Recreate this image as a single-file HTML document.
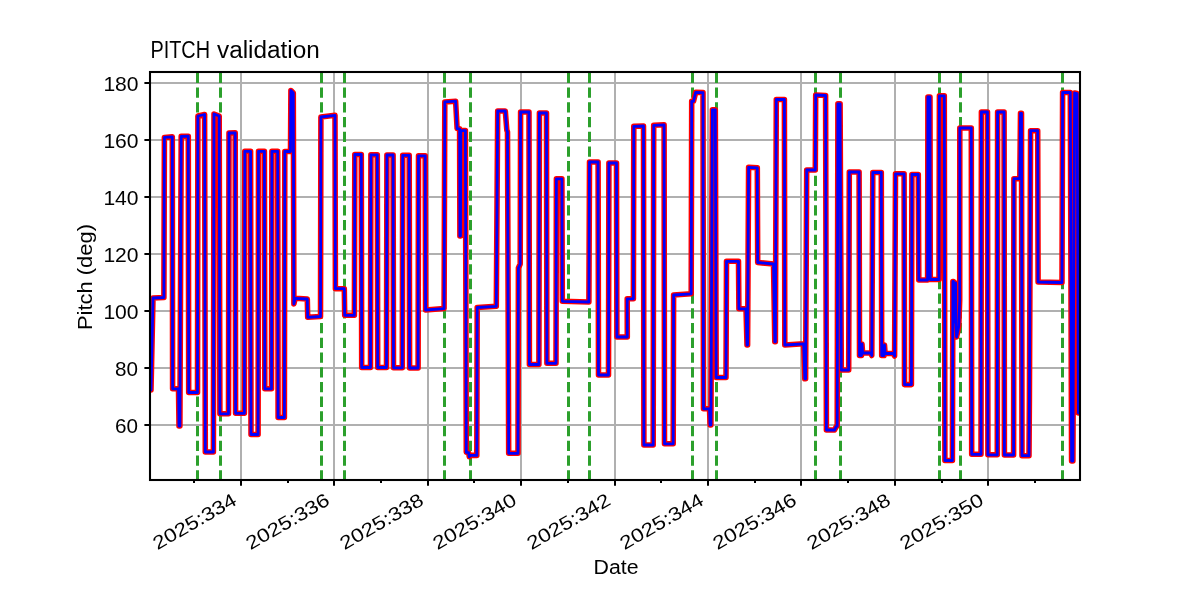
<!DOCTYPE html>
<html><head><meta charset="utf-8"><title>PITCH validation</title>
<style>html,body{margin:0;padding:0;background:#fff;overflow:hidden}body{width:1200px;height:600px;font-family:"Liberation Sans",sans-serif}svg{display:block}</style></head>
<body>
<svg width="1200" height="600" viewBox="0 0 1200 600">
<rect width="1200" height="600" fill="#fff"/>
<defs><clipPath id="ax"><rect x="150" y="72" width="930" height="408"/></clipPath></defs>
<g stroke="#b0b0b0" stroke-width="2" fill="none">
<line x1="241.00" y1="72" x2="241.00" y2="480"/>
<line x1="334.00" y1="72" x2="334.00" y2="480"/>
<line x1="428.00" y1="72" x2="428.00" y2="480"/>
<line x1="521.00" y1="72" x2="521.00" y2="480"/>
<line x1="615.00" y1="72" x2="615.00" y2="480"/>
<line x1="708.00" y1="72" x2="708.00" y2="480"/>
<line x1="801.00" y1="72" x2="801.00" y2="480"/>
<line x1="895.00" y1="72" x2="895.00" y2="480"/>
<line x1="988.00" y1="72" x2="988.00" y2="480"/>
<line x1="150" y1="425.00" x2="1080" y2="425.00"/>
<line x1="150" y1="368.00" x2="1080" y2="368.00"/>
<line x1="150" y1="311.00" x2="1080" y2="311.00"/>
<line x1="150" y1="254.00" x2="1080" y2="254.00"/>
<line x1="150" y1="197.00" x2="1080" y2="197.00"/>
<line x1="150" y1="140.00" x2="1080" y2="140.00"/>
<line x1="150" y1="83.00" x2="1080" y2="83.00"/>
</g>
<g stroke="#2ca02c" stroke-width="3" stroke-dasharray="10.28 4.44" fill="none" clip-path="url(#ax)">
<line x1="197.5" y1="480.5" x2="197.5" y2="72"/>
<line x1="220.5" y1="480.5" x2="220.5" y2="72"/>
<line x1="321.5" y1="480.5" x2="321.5" y2="72"/>
<line x1="344.5" y1="480.5" x2="344.5" y2="72"/>
<line x1="444.5" y1="480.5" x2="444.5" y2="72"/>
<line x1="470.5" y1="480.5" x2="470.5" y2="72"/>
<line x1="568.5" y1="480.5" x2="568.5" y2="72"/>
<line x1="589.5" y1="480.5" x2="589.5" y2="72"/>
<line x1="692.5" y1="480.5" x2="692.5" y2="72"/>
<line x1="716.5" y1="480.5" x2="716.5" y2="72"/>
<line x1="815.5" y1="480.5" x2="815.5" y2="72"/>
<line x1="840.5" y1="480.5" x2="840.5" y2="72"/>
<line x1="939.5" y1="480.5" x2="939.5" y2="72"/>
<line x1="960.5" y1="480.5" x2="960.5" y2="72"/>
<line x1="1062.5" y1="480.5" x2="1062.5" y2="72"/>
</g>
<g clip-path="url(#ax)" fill="none" stroke-linejoin="round" stroke-linecap="butt">
<polyline points="149.0,390.0 151.0,390.0 153.0,298.0 163.9,297.5 164.4,137.4 172.3,136.8 172.6,388.8 178.5,388.8 179.0,426.0 179.9,426.0 181.2,136.4 188.3,136.2 188.7,392.5 197.5,392.5 197.9,116.0 204.6,114.5 205.3,452.0 213.4,452.0 214.0,114.0 219.2,116.0 219.9,413.8 228.5,413.8 229.0,133.0 235.2,132.8 235.6,413.3 244.4,413.3 244.8,151.3 250.6,151.3 251.0,434.5 258.1,434.5 258.5,151.3 264.4,151.3 264.8,388.8 271.5,388.8 271.9,151.3 277.7,151.3 278.1,417.5 284.4,417.5 284.8,151.5 290.5,151.5 290.9,90.5 293.3,93.0 293.9,304.0 295.2,298.3 307.3,299.0 307.7,317.3 320.5,316.5 320.9,117.0 335.0,115.3 335.4,288.7 344.3,288.7 344.7,315.3 354.4,315.3 354.8,154.5 361.3,154.5 361.7,367.5 370.5,367.5 370.9,154.8 377.3,154.8 377.7,367.5 386.5,367.5 386.9,155.0 393.1,155.0 393.5,367.8 402.3,367.8 402.7,155.3 409.2,155.3 409.6,368.0 418.1,368.0 418.5,155.8 425.2,155.8 425.6,310.0 444.1,308.6 444.8,101.9 455.6,101.2 457.1,128.6 459.6,128.8 459.9,236.0 460.5,236.0 460.8,130.6 465.4,130.6 466.3,452.3 468.6,452.7 469.3,456.8 470.3,455.4 476.8,455.4 477.2,307.5 496.3,306.3 497.7,111.0 505.3,111.0 506.8,130.0 507.5,132.0 508.7,453.3 518.0,453.3 518.4,268.0 520.2,264.0 520.6,112.0 529.0,112.0 529.4,364.5 538.9,364.5 539.4,113.0 546.5,113.0 546.9,363.3 556.0,363.3 556.4,178.8 561.9,178.8 562.3,301.3 588.9,302.0 589.5,162.0 598.1,162.0 598.5,375.0 608.5,375.0 608.9,163.0 616.5,163.0 616.9,337.0 627.3,337.0 627.2,298.8 633.4,298.8 633.8,126.3 643.5,126.0 643.9,445.0 653.2,445.0 653.7,125.3 664.1,124.8 664.5,443.8 673.2,443.8 673.6,295.0 691.2,293.8 691.7,101.3 693.5,101.3 695.7,92.3 703.0,92.6 703.5,408.8 709.5,408.8 710.1,425.0 710.9,425.0 712.4,109.8 715.3,109.8 716.2,377.5 726.0,377.5 726.5,261.3 738.5,261.3 738.9,308.8 746.0,308.8 747.0,345.0 747.6,345.0 748.6,167.3 757.3,167.8 757.7,262.5 773.5,264.0 774.8,341.8 775.4,341.8 776.3,99.5 784.4,99.5 784.8,345.0 803.7,343.8 804.8,378.8 805.6,378.8 806.7,170.0 815.3,170.0 815.7,95.0 825.6,95.5 826.4,430.0 834.5,430.0 836.3,426.5 837.2,426.0 837.9,103.8 840.1,103.8 841.3,370.0 848.7,370.0 849.3,172.0 859.1,172.0 859.5,355.5 861.5,355.5 862.0,344.0 862.6,353.0 870.8,353.0 871.8,355.5 872.8,172.5 881.3,172.5 881.7,355.5 884.0,355.5 884.5,345.0 885.1,353.5 893.4,353.5 894.6,356.0 895.5,173.8 904.1,173.8 904.5,384.6 911.4,384.6 911.9,174.5 918.3,174.5 918.8,280.0 927.6,280.0 927.9,97.0 930.0,97.0 930.3,279.5 939.0,279.5 939.4,95.8 944.3,95.8 944.9,460.5 952.4,460.5 952.9,281.5 953.4,281.5 953.7,322.0 954.3,283.0 954.7,283.0 955.0,322.0 955.4,283.0 955.6,283.0 955.9,326.0 956.6,337.0 958.8,326.0 959.7,300.0 959.8,128.0 971.3,128.0 971.7,454.3 981.0,454.3 981.4,112.0 987.5,112.0 987.9,454.8 997.3,454.8 997.6,112.0 1004.1,112.0 1004.4,455.0 1013.6,455.0 1013.9,178.7 1019.8,178.7 1020.5,113.3 1021.5,113.3 1022.0,455.7 1029.0,455.7 1029.4,400.0 1030.6,130.7 1037.7,130.7 1038.1,282.0 1062.0,282.5 1062.6,92.5 1070.3,92.5 1071.6,461.0 1072.9,461.0 1074.6,93.0 1077.1,93.5 1078.4,413.0 1082.0,413.0" stroke="#ff0000" stroke-width="5.56"/>
<polyline points="149.0,390.0 151.0,390.0 153.0,298.0 163.9,297.5 164.4,137.4 172.3,136.8 172.6,388.8 178.5,388.8 179.0,426.0 179.9,426.0 181.2,136.4 188.3,136.2 188.7,392.5 197.5,392.5 197.9,116.0 204.6,114.5 205.3,452.0 213.4,452.0 214.0,114.0 219.2,116.0 219.9,413.8 228.5,413.8 229.0,133.0 235.2,132.8 235.6,413.3 244.4,413.3 244.8,151.3 250.6,151.3 251.0,434.5 258.1,434.5 258.5,151.3 264.4,151.3 264.8,388.8 271.5,388.8 271.9,151.3 277.7,151.3 278.1,417.5 284.4,417.5 284.8,151.5 290.5,151.5 290.9,90.5 293.3,93.0 293.9,304.0 295.2,298.3 307.3,299.0 307.7,317.3 320.5,316.5 320.9,117.0 335.0,115.3 335.4,288.7 344.3,288.7 344.7,315.3 354.4,315.3 354.8,154.5 361.3,154.5 361.7,367.5 370.5,367.5 370.9,154.8 377.3,154.8 377.7,367.5 386.5,367.5 386.9,155.0 393.1,155.0 393.5,367.8 402.3,367.8 402.7,155.3 409.2,155.3 409.6,368.0 418.1,368.0 418.5,155.8 425.2,155.8 425.6,310.0 444.1,308.6 444.8,101.9 455.6,101.2 457.1,128.6 459.6,128.8 459.9,236.0 460.5,236.0 460.8,130.6 465.4,130.6 466.3,452.3 468.6,452.7 469.3,456.8 470.3,455.4 476.8,455.4 477.2,307.5 496.3,306.3 497.7,111.0 505.3,111.0 506.8,130.0 507.5,132.0 508.7,453.3 518.0,453.3 518.4,268.0 520.2,264.0 520.6,112.0 529.0,112.0 529.4,364.5 538.9,364.5 539.4,113.0 546.5,113.0 546.9,363.3 556.0,363.3 556.4,178.8 561.9,178.8 562.3,301.3 588.9,302.0 589.5,162.0 598.1,162.0 598.5,375.0 608.5,375.0 608.9,163.0 616.5,163.0 616.9,337.0 627.3,337.0 627.2,298.8 633.4,298.8 633.8,126.3 643.5,126.0 643.9,445.0 653.2,445.0 653.7,125.3 664.1,124.8 664.5,443.8 673.2,443.8 673.6,295.0 691.2,293.8 691.7,101.3 693.5,101.3 695.7,92.3 703.0,92.6 703.5,408.8 709.5,408.8 710.1,425.0 710.9,425.0 712.4,109.8 715.3,109.8 716.2,377.5 726.0,377.5 726.5,261.3 738.5,261.3 738.9,308.8 746.0,308.8 747.0,345.0 747.6,345.0 748.6,167.3 757.3,167.8 757.7,262.5 773.5,264.0 774.8,341.8 775.4,341.8 776.3,99.5 784.4,99.5 784.8,345.0 803.7,343.8 804.8,378.8 805.6,378.8 806.7,170.0 815.3,170.0 815.7,95.0 825.6,95.5 826.4,430.0 834.5,430.0 836.3,426.5 837.2,426.0 837.9,103.8 840.1,103.8 841.3,370.0 848.7,370.0 849.3,172.0 859.1,172.0 859.5,355.5 861.5,355.5 862.0,344.0 862.6,353.0 870.8,353.0 871.8,355.5 872.8,172.5 881.3,172.5 881.7,355.5 884.0,355.5 884.5,345.0 885.1,353.5 893.4,353.5 894.6,356.0 895.5,173.8 904.1,173.8 904.5,384.6 911.4,384.6 911.9,174.5 918.3,174.5 918.8,280.0 927.6,280.0 927.9,97.0 930.0,97.0 930.3,279.5 939.0,279.5 939.4,95.8 944.3,95.8 944.9,460.5 952.4,460.5 952.9,281.5 953.4,281.5 953.7,322.0 954.3,283.0 954.7,283.0 955.0,322.0 955.4,283.0 955.6,283.0 955.9,326.0 956.6,337.0 958.8,326.0 959.7,300.0 959.8,128.0 971.3,128.0 971.7,454.3 981.0,454.3 981.4,112.0 987.5,112.0 987.9,454.8 997.3,454.8 997.6,112.0 1004.1,112.0 1004.4,455.0 1013.6,455.0 1013.9,178.7 1019.8,178.7 1020.5,113.3 1021.5,113.3 1022.0,455.7 1029.0,455.7 1029.4,400.0 1030.6,130.7 1037.7,130.7 1038.1,282.0 1062.0,282.5 1062.6,92.5 1070.3,92.5 1071.6,461.0 1072.9,461.0 1074.6,93.0 1077.1,93.5 1078.4,413.0 1082.0,413.0" stroke="#0000ff" stroke-width="2.78"/>
</g>
<g stroke="#000" stroke-width="2" fill="none">
<line x1="241.00" y1="480" x2="241.00" y2="485.7"/>
<line x1="334.00" y1="480" x2="334.00" y2="485.7"/>
<line x1="428.00" y1="480" x2="428.00" y2="485.7"/>
<line x1="521.00" y1="480" x2="521.00" y2="485.7"/>
<line x1="615.00" y1="480" x2="615.00" y2="485.7"/>
<line x1="708.00" y1="480" x2="708.00" y2="485.7"/>
<line x1="801.00" y1="480" x2="801.00" y2="485.7"/>
<line x1="895.00" y1="480" x2="895.00" y2="485.7"/>
<line x1="988.00" y1="480" x2="988.00" y2="485.7"/>
<line x1="194.00" y1="480" x2="194.00" y2="482.9"/>
<line x1="288.00" y1="480" x2="288.00" y2="482.9"/>
<line x1="381.00" y1="480" x2="381.00" y2="482.9"/>
<line x1="474.00" y1="480" x2="474.00" y2="482.9"/>
<line x1="568.00" y1="480" x2="568.00" y2="482.9"/>
<line x1="661.00" y1="480" x2="661.00" y2="482.9"/>
<line x1="755.00" y1="480" x2="755.00" y2="482.9"/>
<line x1="848.00" y1="480" x2="848.00" y2="482.9"/>
<line x1="942.00" y1="480" x2="942.00" y2="482.9"/>
<line x1="1035.00" y1="480" x2="1035.00" y2="482.9"/>
<line x1="144.4" y1="425.00" x2="150" y2="425.00"/>
<line x1="144.4" y1="368.00" x2="150" y2="368.00"/>
<line x1="144.4" y1="311.00" x2="150" y2="311.00"/>
<line x1="144.4" y1="254.00" x2="150" y2="254.00"/>
<line x1="144.4" y1="197.00" x2="150" y2="197.00"/>
<line x1="144.4" y1="140.00" x2="150" y2="140.00"/>
<line x1="144.4" y1="83.00" x2="150" y2="83.00"/>
</g>
<rect x="150" y="72" width="930" height="408" fill="none" stroke="#000" stroke-width="2.08"/>
<g font-family="Liberation Sans, sans-serif" fill="#000" opacity="0.999">
<text x="150.4" y="57.6" font-size="23" textLength="59.6" lengthAdjust="spacingAndGlyphs">PITCH</text>
<text x="217.0" y="57.6" font-size="23" textLength="102.8" lengthAdjust="spacingAndGlyphs">validation</text>
<text x="138.1" y="433.30" font-size="20.3" text-anchor="end" textLength="23.0" lengthAdjust="spacingAndGlyphs">60</text>
<text x="138.1" y="376.30" font-size="20.3" text-anchor="end" textLength="23.0" lengthAdjust="spacingAndGlyphs">80</text>
<text x="138.6" y="319.30" font-size="20.3" text-anchor="end" textLength="35.2" lengthAdjust="spacingAndGlyphs">100</text>
<text x="138.6" y="262.30" font-size="20.3" text-anchor="end" textLength="35.2" lengthAdjust="spacingAndGlyphs">120</text>
<text x="138.6" y="205.30" font-size="20.3" text-anchor="end" textLength="35.2" lengthAdjust="spacingAndGlyphs">140</text>
<text x="138.6" y="148.30" font-size="20.3" text-anchor="end" textLength="35.2" lengthAdjust="spacingAndGlyphs">160</text>
<text x="138.6" y="91.30" font-size="20.3" text-anchor="end" textLength="35.2" lengthAdjust="spacingAndGlyphs">180</text>
<text transform="translate(238.10,503.80) rotate(-30)" font-size="19" text-anchor="end" textLength="93" lengthAdjust="spacingAndGlyphs">2025:334</text>
<text transform="translate(331.10,503.80) rotate(-30)" font-size="19" text-anchor="end" textLength="93" lengthAdjust="spacingAndGlyphs">2025:336</text>
<text transform="translate(425.10,503.80) rotate(-30)" font-size="19" text-anchor="end" textLength="93" lengthAdjust="spacingAndGlyphs">2025:338</text>
<text transform="translate(518.10,503.80) rotate(-30)" font-size="19" text-anchor="end" textLength="93" lengthAdjust="spacingAndGlyphs">2025:340</text>
<text transform="translate(612.10,503.80) rotate(-30)" font-size="19" text-anchor="end" textLength="93" lengthAdjust="spacingAndGlyphs">2025:342</text>
<text transform="translate(705.10,503.80) rotate(-30)" font-size="19" text-anchor="end" textLength="93" lengthAdjust="spacingAndGlyphs">2025:344</text>
<text transform="translate(798.10,503.80) rotate(-30)" font-size="19" text-anchor="end" textLength="93" lengthAdjust="spacingAndGlyphs">2025:346</text>
<text transform="translate(892.10,503.80) rotate(-30)" font-size="19" text-anchor="end" textLength="93" lengthAdjust="spacingAndGlyphs">2025:348</text>
<text transform="translate(985.10,503.80) rotate(-30)" font-size="19" text-anchor="end" textLength="93" lengthAdjust="spacingAndGlyphs">2025:350</text>
<text x="616" y="573.6" font-size="19.6" text-anchor="middle" textLength="45" lengthAdjust="spacingAndGlyphs">Date</text>
<text transform="translate(91.8,277) rotate(-90)" font-size="19.6" text-anchor="middle" textLength="106" lengthAdjust="spacingAndGlyphs">Pitch (deg)</text>
</g>
</svg>
</body></html>
